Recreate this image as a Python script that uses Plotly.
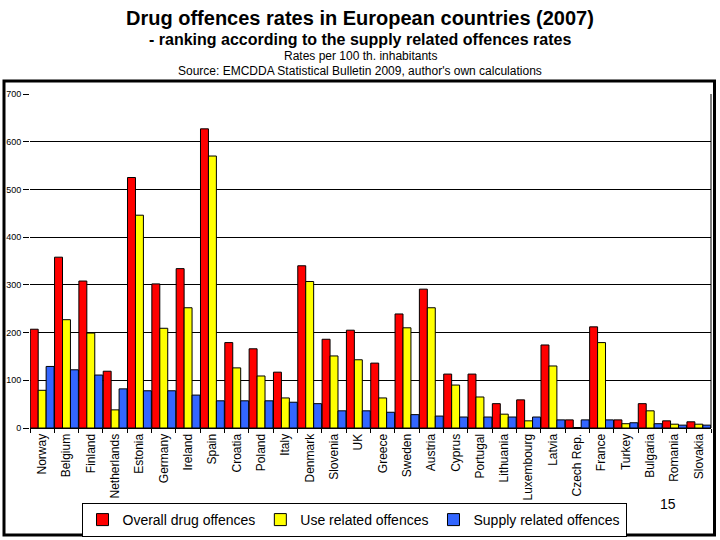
import plotly.graph_objects as go

countries = ["Norway", "Belgium", "Finland", "Netherlands", "Estonia", "Germany", "Ireland",
             "Spain", "Croatia", "Poland", "Italy", "Denmark", "Slovenia", "UK", "Greece",
             "Sweden", "Austria", "Cyprus", "Portugal", "Lithuania", "Luxembourg", "Latvia",
             "Czech Rep.", "France", "Turkey", "Bulgaria", "Romania", "Slovakia"]
overall = [207, 358, 308, 119, 525, 302, 334, 627, 179, 166, 117, 340, 186, 205, 136,
           239, 291, 113, 113, 51, 59, 174, 17, 212, 17, 51, 15, 13]
use_rel = [79, 227, 199, 38, 446, 209, 252, 570, 126, 109, 63, 307, 151, 143, 63,
           210, 252, 90, 65, 29, 15, 130, 1, 179, 9, 36, 8, 8]
supply = [129, 122, 111, 82, 78, 78, 69, 57, 57, 57, 54, 51, 36, 36, 33,
          28, 25, 23, 23, 23, 23, 17, 17, 17, 11, 9, 6, 6]

FONT = "Liberation Sans, Arial, sans-serif"
L, R, T, B = 30, 9, 94, 112
W, H = 720, 540
pw, ph = W - L - R, H - T - B

def px(x):
    return (x - L) / pw

def py(y):
    return (H - B - y) / ph

fig = go.Figure()
for name, vals, col in [("Overall drug offences", overall, "#FF0000"),
                        ("Use related offences", use_rel, "#FFFF00"),
                        ("Supply related offences", supply, "#3366FF")]:
    fig.add_trace(go.Bar(x=countries, y=vals, name=name, marker_color=col,
                         marker_line=dict(color="black", width=1)))

fig.update_layout(
    width=W, height=H, margin=dict(l=L, r=R, t=T, b=B, autoexpand=False),
    paper_bgcolor="white", plot_bgcolor="white",
    barmode="group", bargap=0.02, bargroupgap=0,
    font=dict(family=FONT, color="black"),
    showlegend=True,
    legend=dict(orientation="h", x=px(354), xanchor="center", y=py(503), yanchor="top",
                bordercolor="black", borderwidth=1, bgcolor="white",
                font=dict(size=14, family=FONT), traceorder="normal",
                itemwidth=30, tracegroupgap=0),
)
fig.update_xaxes(tickangle=-90, tickfont=dict(size=12), showline=True, linecolor="black",
                 linewidth=1, ticks="outside", tickson="boundaries", ticklen=4,
                 tickcolor="black", showgrid=False, automargin=False)
fig.update_yaxes(range=[0, 700], dtick=100, tickfont=dict(size=9), showgrid=True,
                 gridcolor="black", gridwidth=1, ticks="outside", ticklen=6,
                 tickcolor="black", zeroline=False, showline=False, automargin=False)

# plot-area right border
fig.add_shape(type="line", xref="paper", yref="paper", x0=1, x1=1, y0=0, y1=1,
              line=dict(color="black", width=1))
# outer frame
fig.add_shape(type="rect", xref="paper", yref="paper",
              x0=px(4), x1=px(714.5), y0=py(535), y1=py(81),
              line=dict(color="black", width=3), layer="above")

anns = [
    ("Drug offences rates in European countries (2007)", 18, True, 20),
    ("- ranking according to the supply related offences rates", 40, True, 16),
    ("Rates per 100 th. inhabitants", 56, False, 12),
    ("Source: EMCDDA Statistical Bulletin 2009, author's own calculations", 71, False, 12),
]
for text, y, bold, size in anns:
    fig.add_annotation(text=f"<b>{text}</b>" if bold else text, xref="paper", yref="paper",
                       x=px(360), y=py(y), xanchor="center", yanchor="middle",
                       showarrow=False, font=dict(size=size, family=FONT, color="black"))
fig.add_annotation(text="15", xref="paper", yref="paper", x=px(668), y=py(504),
                   xanchor="center", yanchor="middle", showarrow=False,
                   font=dict(size=14, family=FONT, color="black"))

fig.write_html("out.html")
